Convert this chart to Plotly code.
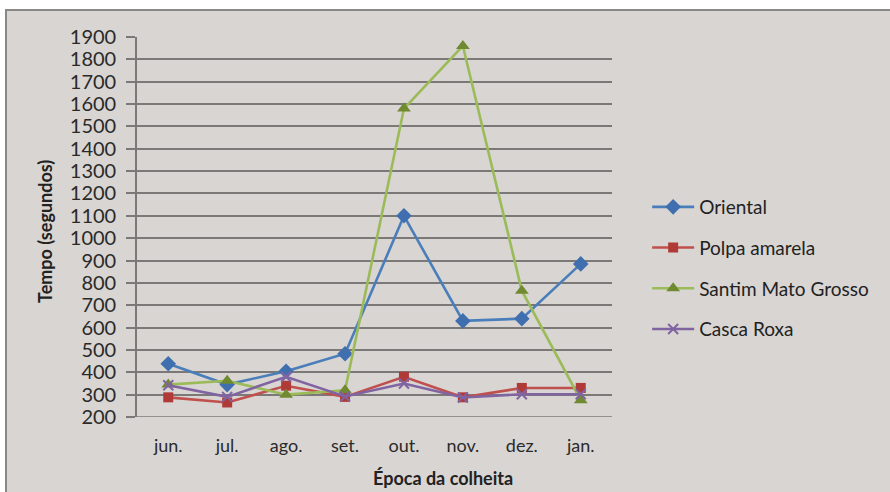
import plotly.graph_objects as go

# Harvest months and time (seconds) per variety
meses = ["jun.", "jul.", "ago.", "set.", "out.", "nov.", "dez.", "jan."]
oriental = [438, 345, 405, 483, 1100, 630, 640, 885]
polpa_amarela = [288, 265, 340, 290, 380, 288, 330, 330]
santim_mato_grosso = [345, 362, 300, 320, 1580, 1860, 765, 275]
casca_roxa = [342, 290, 380, 292, 350, 287, 302, 302]
y_ticks = list(range(200, 2000, 100))

BG = "#d9d5d2"
GRID = "#7b7977"
FONT = "Lato"

series = [
    ("Oriental", oriental, "#4a7ebb", "#3f6fae", "diamond", 12),
    ("Polpa amarela", polpa_amarela, "#c0504d", "#b03a37", "square", 10),
    ("Santim Mato Grosso", santim_mato_grosso, "#9bbb59", "#6f8a30", "triangle-up", 12),
    ("Casca Roxa", casca_roxa, "#8064a2", "#8064a2", "x-thin", 10),
]

fig = go.Figure()
for i, (name, vals, lc, mc, sym, sz) in enumerate(series):
    fig.add_trace(go.Scatter(
        x=meses, y=vals, name=name, mode="lines+markers",
        legendgroup=str(i),
        line=dict(color=lc, width=2.6),
        marker=dict(symbol=sym, size=sz, color=mc,
                    line=dict(color=mc, width=2 if sym == "x-thin" else 0)),
    ))

fig.update_layout(
    width=890, height=492,
    margin=dict(l=137, r=278, t=37, b=75),
    paper_bgcolor="white",
    plot_bgcolor="rgba(0,0,0,0)",
    font=dict(family=FONT, color="#222222"),
    showlegend=True,
    legend=dict(
        x=1.074, y=(417 - 268) / 380, xanchor="left", yanchor="middle",
        font=dict(family=FONT, size=19, color="#222222"),
        bgcolor="rgba(0,0,0,0)",
        tracegroupgap=13,
        itemwidth=42,
    ),
    xaxis=dict(
        type="category",
        showgrid=False,
        showline=False,
        ticks="",
        tickfont=dict(family=FONT, size=18, color="#2a2a2a"),
        ticklabelstandoff=16,
    ),
    yaxis=dict(
        range=[200, 1900],
        tickvals=y_ticks,
        showgrid=True, gridcolor=GRID, gridwidth=1.6,
        zeroline=False,
        showline=True, linecolor=GRID, linewidth=1.6,
        ticks="outside", ticklen=9, tickcolor=GRID, tickwidth=1.6,
        tickfont=dict(family=FONT, size=20, color="#2a2a2a"),
        ticklabelstandoff=6,
    ),
    shapes=[
        # chart area background with top border
        dict(type="rect", xref="paper", yref="paper", layer="below",
             x0=-0.2758, x1=1.7, y0=-0.3, y1=1.071,
             fillcolor=BG, line=dict(color="#8a8886", width=2)),
        # bottom edge of the plot area (category axis)
        dict(type="line", xref="paper", yref="y", x0=0, x1=1, y0=200, y1=200,
             line=dict(color=GRID, width=1.6)),
    ],
    annotations=[
        dict(text="<b>Tempo (segundos)</b>", xref="paper", yref="paper",
             x=(45 - 137) / 475, y=(417 - 232) / 380, textangle=-90,
             showarrow=False, xanchor="center", yanchor="middle",
             font=dict(family=FONT, size=18, color="#222222")),
        dict(text="<b>Época da colheita</b>", xref="paper", yref="paper",
             x=(443 - 137) / 475, y=(417 - 478) / 380,
             showarrow=False, xanchor="center", yanchor="middle",
             font=dict(family=FONT, size=18, color="#222222")),
    ],
)

fig.write_html("out.html")
